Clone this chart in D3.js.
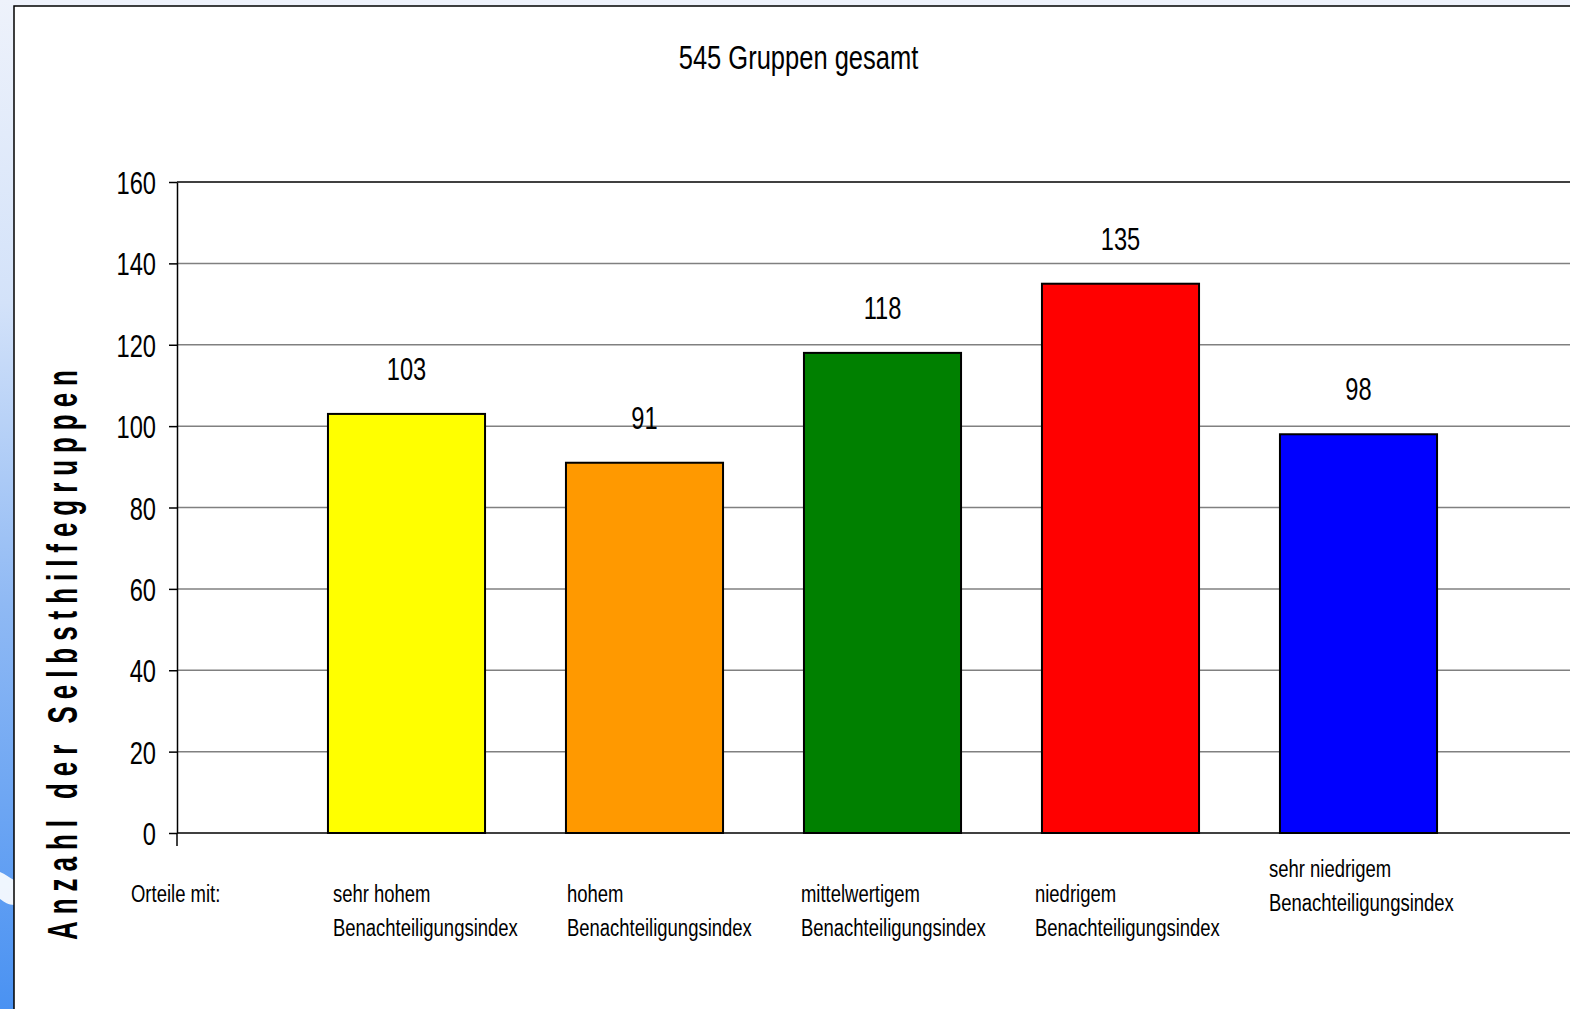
<!DOCTYPE html>
<html>
<head>
<meta charset="utf-8">
<script src="https://cdn.jsdelivr.net/npm/d3@7"></script>
<style>
  html, body { margin: 0; padding: 0; overflow: hidden; }
  body { width: 1570px; height: 1009px; }
  text { font-family: "Liberation Sans", Arial, sans-serif; fill: #000; }
</style>
</head>
<body>
<svg id="chart" width="1570" height="1009"></svg>
<script>
// data
const categories = ["sehr hohem", "hohem", "mittelwertigem", "niedrigem", "sehr niedrigem"];
const labelLine2 = "Benachteiligungsindex";
const values = [103, 91, 118, 135, 98];
const barColors = ["#ffff00", "#ff9900", "#008000", "#ff0000", "#0000ff"];
const yTicks = [0, 20, 40, 60, 80, 100, 120, 140, 160];
const title = "545 Gruppen gesamt";
const yTitle = "Anzahl der Selbsthilfegruppen";
const rowLabel = "Orteile mit:";

const W = 1570, H = 1009;
const svg = d3.select("#chart");
const defs = svg.append("defs");

// background: slide gradient on the left
const grad = defs.append("linearGradient").attr("id", "bg").attr("x1", 0).attr("y1", 0).attr("x2", 0).attr("y2", 1);
grad.append("stop").attr("offset", "0").attr("stop-color", "#eef2fb");
grad.append("stop").attr("offset", "0.3").attr("stop-color", "#d3e2f9");
grad.append("stop").attr("offset", "0.6").attr("stop-color", "#8fb9f4");
grad.append("stop").attr("offset", "1").attr("stop-color", "#4a92f2");
svg.append("rect").attr("width", W).attr("height", H).attr("fill", "#eef2fb");
svg.append("rect").attr("width", 14).attr("height", H).attr("fill", "url(#bg)");
// white swoosh
svg.append("path")
  .attr("d", "M0,872 C5,874 10,878 14,880 L14,905 C9,905 4,902 0,899 Z")
  .attr("fill", "#ffffff").attr("opacity", 0.9);

// chart frame
svg.append("rect")
  .attr("x", 14).attr("y", 6).attr("width", W).attr("height", H)
  .attr("fill", "#fff").attr("stroke", "#000").attr("stroke-width", 1.5);

// condensed text helper
function ctext(parent, x, y, str, size, sx, anchor) {
  return parent.append("text")
    .attr("transform", `translate(${x},${y}) scale(${sx},1)`)
    .attr("font-size", size)
    .attr("text-anchor", anchor || "start")
    .text(str);
}

// scales
const plot = { left: 177, right: 1660, top: 182, bottom: 833 };
const y = d3.scaleLinear().domain([0, 160]).range([plot.bottom, plot.top]);
const x = d3.scaleBand().domain(categories)
  .range([287.5, 1477.5]).paddingInner(0.34).paddingOuter(0.17);

// gridlines
svg.append("g").selectAll("line")
  .data(yTicks.filter(d => d > 0))
  .join("line")
  .attr("x1", plot.left).attr("x2", plot.right)
  .attr("y1", d => y(d)).attr("y2", d => y(d))
  .attr("stroke", d => d === 160 ? "#000" : "#808080")
  .attr("stroke-width", 1.5);

// y axis
const yAxis = svg.append("g")
  .attr("transform", `translate(${plot.left},0)`)
  .call(d3.axisLeft(y).tickValues(yTicks).tickSize(8).tickSizeOuter(0));
yAxis.select(".domain").attr("stroke", "#000").attr("stroke-width", 1.5);
yAxis.selectAll(".tick line").attr("stroke", "#000").attr("stroke-width", 1.5);
yAxis.selectAll(".tick text")
  .attr("font-family", "Liberation Sans, Arial, sans-serif")
  .attr("font-size", 32)
  .attr("transform", "scale(0.74,1)")
  .attr("x", -21 / 0.74)
  .attr("dy", "0.36em");

// x axis line and first tick
svg.append("line")
  .attr("x1", plot.left).attr("x2", plot.right)
  .attr("y1", y(0)).attr("y2", y(0))
  .attr("stroke", "#000").attr("stroke-width", 1.5);
svg.append("line")
  .attr("x1", plot.left).attr("x2", plot.left)
  .attr("y1", y(0)).attr("y2", y(0) + 13)
  .attr("stroke", "#000").attr("stroke-width", 1.5);

// bars
svg.append("g").selectAll("rect")
  .data(values)
  .join("rect")
  .attr("x", (d, i) => x(categories[i]))
  .attr("y", d => y(d))
  .attr("width", x.bandwidth())
  .attr("height", d => y(0) - y(d))
  .attr("fill", (d, i) => barColors[i])
  .attr("stroke", "#000")
  .attr("stroke-width", 2);

// value labels
const vl = svg.append("g");
values.forEach((d, i) => {
  ctext(vl, x(categories[i]) + x.bandwidth() / 2, y(d) - 34, d, 32, 0.74, "middle");
});

// title
ctext(svg, 798.5, 69, title, 34, 0.75, "middle");

// category labels
const cl = svg.append("g");
ctext(cl, 131, 902, rowLabel, 24, 0.77);
categories.forEach((c, i) => {
  const lx = x(c) + 5 - 4 * i;
  const base = i === categories.length - 1 ? 877 : 902;
  ctext(cl, lx, base, c, 24, 0.77);
  ctext(cl, lx, base + 34, labelLine2, 24, 0.77);
});

// y axis title
svg.append("text")
  .attr("transform", "translate(77,655) rotate(-90) scale(0.62,1)")
  .attr("font-size", 42)
  .attr("font-weight", "bold")
  .attr("text-anchor", "middle")
  .attr("textLength", 570 / 0.62)
  .attr("lengthAdjust", "spacing")
  .text(yTitle);
</script>
</body>
</html>
